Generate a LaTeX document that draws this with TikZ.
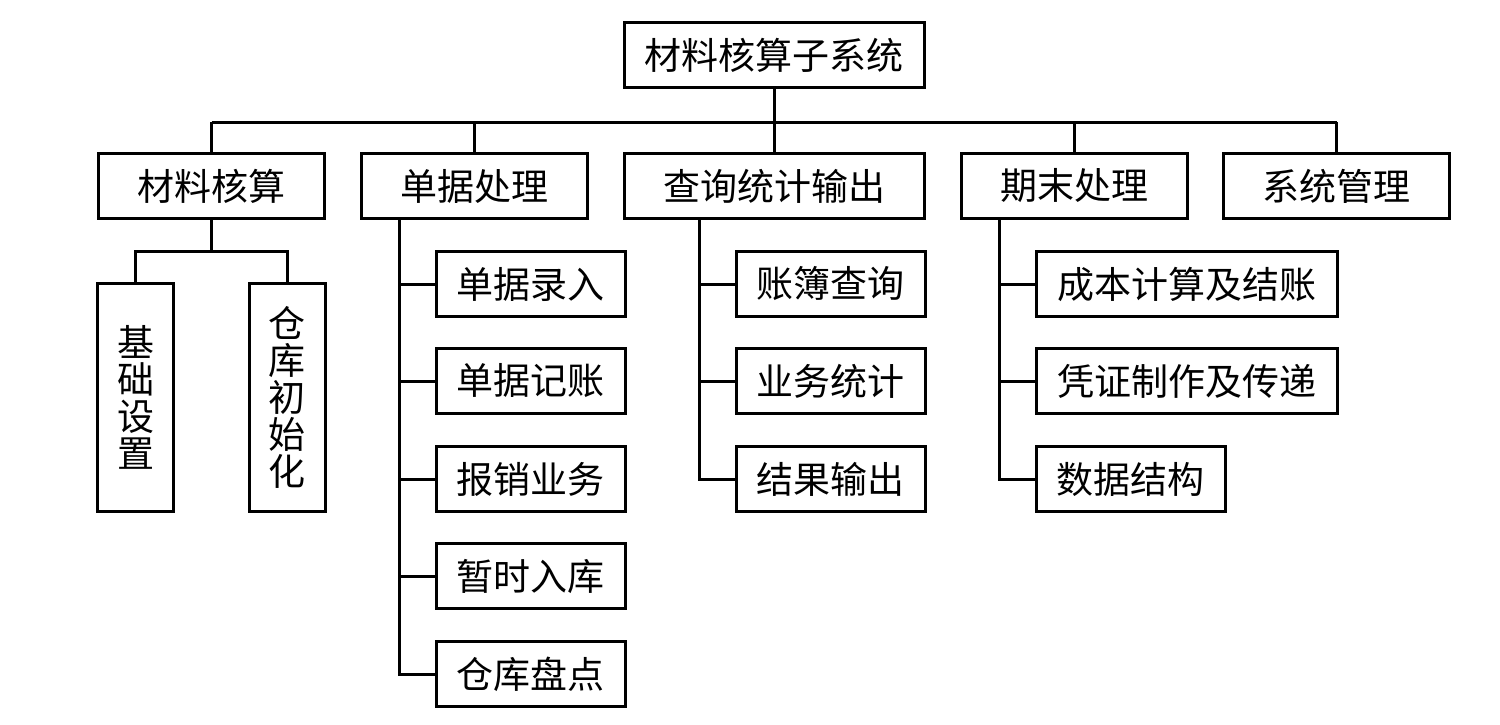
\documentclass[tikz,border=0pt]{standalone}
\usepackage{fontspec}
\newfontfamily\cjk{Noto Sans CJK SC}
\begin{document}
\begin{tikzpicture}[x=1pt,y=-1pt,
  box/.style={draw, line width=3pt, inner sep=0pt, minimum height=65pt,
    font=\cjk\fontsize{37}{37}\selectfont},
  vbox/.style={box, minimum width=76pt, minimum height=228pt, align=center},
  link/.style={line width=3pt}]
\useasboundingbox[fill=white] (0,0) rectangle (1500,725);

% root
\node[box, minimum width=300pt] (root) at (774,55.5) {材料核算子系统};

% level 1
\node[box, minimum width=226pt] (a) at (211.5,186) {材料核算};
\node[box, minimum width=226pt] (b) at (474,186) {单据处理};
\node[box, minimum width=300pt] (c) at (774,186) {查询统计输出};
\node[box, minimum width=226pt] (d) at (1074,186) {期末处理};
\node[box, minimum width=226pt] (e) at (1336.5,186) {系统管理};

% level 2 under a
\node[vbox] (a1) at (135.5,397) {基\\础\\设\\置};
\node[vbox] (a2) at (287,397) {仓\\库\\初\\始\\化};

% level 2 under b
\node[box, minimum width=189pt] (b1) at (530.5,284) {单据录入};
\node[box, minimum width=189pt] (b2) at (530.5,381) {单据记账};
\node[box, minimum width=189pt] (b3) at (530.5,479) {报销业务};
\node[box, minimum width=189pt] (b4) at (530.5,576) {暂时入库};
\node[box, minimum width=189pt] (b5) at (530.5,674) {仓库盘点};

% level 2 under c
\node[box, minimum width=189pt] (c1) at (830.5,284) {账簿查询};
\node[box, minimum width=189pt] (c2) at (830.5,381) {业务统计};
\node[box, minimum width=189pt] (c3) at (830.5,479) {结果输出};

% level 2 under d
\node[box, minimum width=301pt] (d1) at (1186.5,284) {成本计算及结账};
\node[box, minimum width=301pt] (d2) at (1186.5,381) {凭证制作及传递};
\node[box, minimum width=189pt] (d3) at (1130.5,479) {数据结构};

% connectors level 0 -> 1
\coordinate (bus) at (774,122);
\draw[link] (root.south) -- (root.south |- bus);
\draw[link] (a.north |- bus) -- (e.north |- bus);
\foreach \n in {a,b,c,d,e} \draw[link] (\n.north) -- (\n.north |- bus);

% a -> a1, a2
\coordinate (abus) at (211.5,251);
\draw[link] (a.south) -- (a.south |- abus);
\draw[link] (a1.north) -- (a1.north |- abus) -- (a2.north |- abus) -- (a2.north);

% b trunk
\coordinate (btop) at (399,219);
\foreach \n in {b1,b2,b3,b4,b5} \draw[link] (btop) |- (\n.west);

% c trunk
\coordinate (ctop) at (699,219);
\foreach \n in {c1,c2,c3} \draw[link] (ctop) |- (\n.west);

% d trunk
\coordinate (dtop) at (999,219);
\foreach \n in {d1,d2,d3} \draw[link] (dtop) |- (\n.west);
\end{tikzpicture}
\end{document}
